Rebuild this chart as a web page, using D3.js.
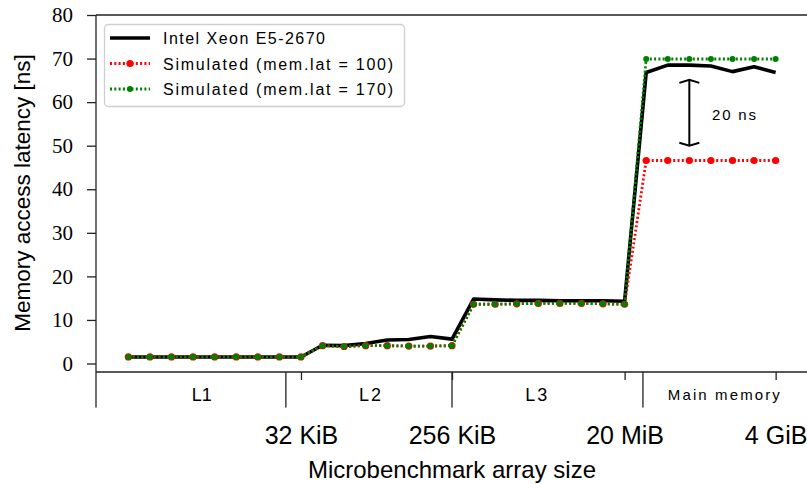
<!DOCTYPE html>
<html>
<head>
<meta charset="utf-8">
<script src="https://cdn.jsdelivr.net/npm/d3@7"></script>
<style>
  html, body { margin: 0; padding: 0; background: #fff; }
  svg { display: block; }
</style>
</head>
<body>
<svg id="chart" width="807" height="484"></svg>
<script>
// Sample positions along the benchmark sweep (one per array size)
const samples = [0,1,2,3,4,5,6,7,8,9,10,11,12,13,14,15,16,17,18,19,20,21,22,23,24,25,26,27,28,29,30];

// Measured latency on the real machine [ns]
const intelXeon = [1.5,1.5,1.5,1.5,1.5,1.5,1.5,1.5,1.5,
                   4.2,4.1,4.6,5.4,5.5,6.2,5.6,
                   14.8,14.6,14.5,14.5,14.4,14.4,14.4,14.3,
                   66.8,68.5,68.5,68.3,67.0,68.1,66.8];

// Simulated latency, memory latency = 100 cycles
const simLat100 = [1.5,1.5,1.5,1.5,1.5,1.5,1.5,1.5,1.5,
                   4.1,3.9,4.1,4.1,4.0,4.0,4.1,
                   13.6,13.6,13.7,13.8,13.8,13.8,13.7,13.6,
                   46.6,46.6,46.6,46.6,46.6,46.6,46.6];

// Simulated latency, memory latency = 170 cycles
const simLat170 = [1.5,1.5,1.5,1.5,1.5,1.5,1.5,1.5,1.5,
                   4.1,3.9,4.1,4.1,4.0,4.0,4.1,
                   13.6,13.6,13.7,13.8,13.8,13.8,13.7,13.6,
                   69.9,69.9,69.9,69.9,69.9,69.9,69.9];

// Size tick labels and where they sit along the sweep
const sizeTickPos = [8, 15, 23, 30];
const sizeTickLabels = ["32 KiB", "256 KiB", "20 MiB", "4 GiB"];

// Cache level regions: boundaries along the sweep, names and name positions
const levelBounds = [-1.5, 7.3, 15, 23.85];
const levelNames = ["L1", "L2", "L3", "Main memory"];
const levelNamePos = [3.4, 11.2, 18.9, 27.6];

const yTicks = [0, 10, 20, 30, 40, 50, 60, 70, 80];

// Gap annotation between the two simulated memory latencies
const gapAt = 26, gapLow = 50, gapHigh = 65.1, gapLabel = "20 ns";

const svg = d3.select("#chart");
const plotL = 96, plotR = 808, plotT = 15, plotB = 372;
const x = d3.scaleLinear().domain([-1.5, 31.5]).range([plotL, plotR]);
const y = d3.scaleLinear().domain([-1.95, 80]).range([plotB, plotT]);

const axisColor = "#222";
const sans = "'Liberation Sans', Arial, sans-serif";
const serif = "'Liberation Serif', 'Times New Roman', serif";

// --- y axis ---
const yAxis = svg.append("g").attr("transform", `translate(${plotL},0)`)
  .call(d3.axisLeft(y).tickValues(yTicks).tickSize(9).tickPadding(14).tickFormat(d3.format("d")));
yAxis.select(".domain").remove();
yAxis.selectAll(".tick line").attr("stroke", axisColor).attr("stroke-width", 1.3);
yAxis.selectAll(".tick text").attr("font-family", serif).attr("font-size", 21).attr("fill", "#000");

// --- x axis (size ticks) ---
const xAxis = svg.append("g").attr("transform", `translate(0,${plotB})`)
  .call(d3.axisBottom(x).tickValues(sizeTickPos).tickSize(8).tickPadding(46)
    .tickFormat((d, i) => sizeTickLabels[i]));
xAxis.select(".domain").remove();
xAxis.selectAll(".tick line").attr("stroke", axisColor).attr("stroke-width", 1.3);
xAxis.selectAll(".tick text").attr("font-family", sans).attr("font-size", 25).attr("fill", "#000");

// --- frame lines ---
svg.append("line").attr("x1", plotL).attr("x2", plotR).attr("y1", plotT).attr("y2", plotT)
  .attr("stroke", axisColor).attr("stroke-width", 1.3);
svg.append("line").attr("x1", plotL).attr("x2", plotR).attr("y1", plotB).attr("y2", plotB)
  .attr("stroke", axisColor).attr("stroke-width", 1.3);
svg.append("line").attr("x1", plotL).attr("x2", plotL).attr("y1", plotT).attr("y2", plotB)
  .attr("stroke", axisColor).attr("stroke-width", 1.3);

// --- cache level separators and names ---
svg.append("g").selectAll("line").data(levelBounds).join("line")
  .attr("x1", d => x(d)).attr("x2", d => x(d))
  .attr("y1", plotB).attr("y2", 407.5)
  .attr("stroke", axisColor).attr("stroke-width", 1.3);

svg.append("g").selectAll("text").data(levelNames).join("text")
  .attr("x", (d, i) => x(levelNamePos[i]))
  .attr("y", (d, i) => i === 3 ? 400 : 401)
  .attr("text-anchor", "middle")
  .attr("font-family", sans)
  .attr("font-size", (d, i) => i === 3 ? 15 : 18)
  .attr("fill", "#000")
  .attr("textLength", (d, i) => [20, 22, 22, 112][i])
  .attr("lengthAdjust", "spacing")
  .text(d => d);

// --- axis titles ---
svg.append("text")
  .attr("transform", `translate(30,193) rotate(-90)`)
  .attr("text-anchor", "middle")
  .attr("font-family", sans).attr("font-size", 22.5).attr("fill", "#000")
  .text("Memory access latency [ns]");

svg.append("text")
  .attr("x", 452).attr("y", 478)
  .attr("text-anchor", "middle")
  .attr("font-family", sans).attr("font-size", 24).attr("fill", "#000")
  .text("Microbenchmark array size");

// --- series ---
const line = vals => d3.line().x((d, i) => x(samples[i])).y(d => y(d))(vals);

const plot = svg.append("g");

plot.append("path").attr("d", line(intelXeon))
  .attr("fill", "none").attr("stroke", "#000").attr("stroke-width", 3.6)
  .attr("stroke-linejoin", "round");

function dotted(vals, color, r) {
  plot.append("path").attr("d", line(vals))
    .attr("fill", "none").attr("stroke", color).attr("stroke-width", 2.8)
    .attr("stroke-dasharray", "2,2.3");
  plot.append("g").selectAll("circle").data(vals).join("circle")
    .attr("cx", (d, i) => x(samples[i])).attr("cy", d => y(d))
    .attr("r", r).attr("fill", color);
}
dotted(simLat100, "#ff0000", 3.6);
dotted(simLat170, "#008000", 3.0);

// --- gap annotation ---
const ax = x(gapAt);
const ann = svg.append("g").attr("stroke", "#000").attr("stroke-width", 2).attr("fill", "none");
ann.append("line").attr("x1", ax).attr("x2", ax).attr("y1", y(gapHigh)).attr("y2", y(gapLow));
ann.append("path").attr("d", `M${ax - 10},${y(gapHigh) + 3} L${ax},${y(gapHigh)} L${ax + 10},${y(gapHigh) + 3}`);
ann.append("path").attr("d", `M${ax - 10},${y(gapLow) - 3} L${ax},${y(gapLow)} L${ax + 10},${y(gapLow) - 3}`);
svg.append("text")
  .attr("x", 712).attr("y", 120)
  .attr("font-family", sans).attr("font-size", 15).attr("fill", "#000")
  .attr("textLength", 44).attr("lengthAdjust", "spacing")
  .text(gapLabel);

// --- legend ---
const legend = svg.append("g");
legend.append("rect").attr("x", 104.5).attr("y", 24.5).attr("width", 300).attr("height", 82)
  .attr("rx", 4).attr("fill", "#fff").attr("stroke", "#cfcfcf").attr("stroke-width", 1.3);

const legendItems = [
  { label: "Intel Xeon E5-2670", color: "#000", kind: "solid", len: 162 },
  { label: "Simulated (mem.lat = 100)", color: "#ff0000", kind: "dot", r: 3.6, len: 230 },
  { label: "Simulated (mem.lat = 170)", color: "#008000", kind: "dot", r: 3.0, len: 230 }
];
legendItems.forEach((it, i) => {
  const ly = 38 + i * 25.5;
  const g = legend.append("g");
  if (it.kind === "solid") {
    g.append("line").attr("x1", 110).attr("x2", 150).attr("y1", ly).attr("y2", ly)
      .attr("stroke", it.color).attr("stroke-width", 3.6);
  } else {
    g.append("line").attr("x1", 110).attr("x2", 150).attr("y1", ly).attr("y2", ly)
      .attr("stroke", it.color).attr("stroke-width", 2.8).attr("stroke-dasharray", "2,2.3");
    g.append("circle").attr("cx", 130).attr("cy", ly).attr("r", it.r).attr("fill", it.color);
  }
  g.append("text").attr("x", 163).attr("y", ly + 6)
    .attr("font-family", sans).attr("font-size", 16).attr("fill", "#000")
    .attr("textLength", it.len).attr("lengthAdjust", "spacing")
    .text(it.label);
});
</script>
</body>
</html>
